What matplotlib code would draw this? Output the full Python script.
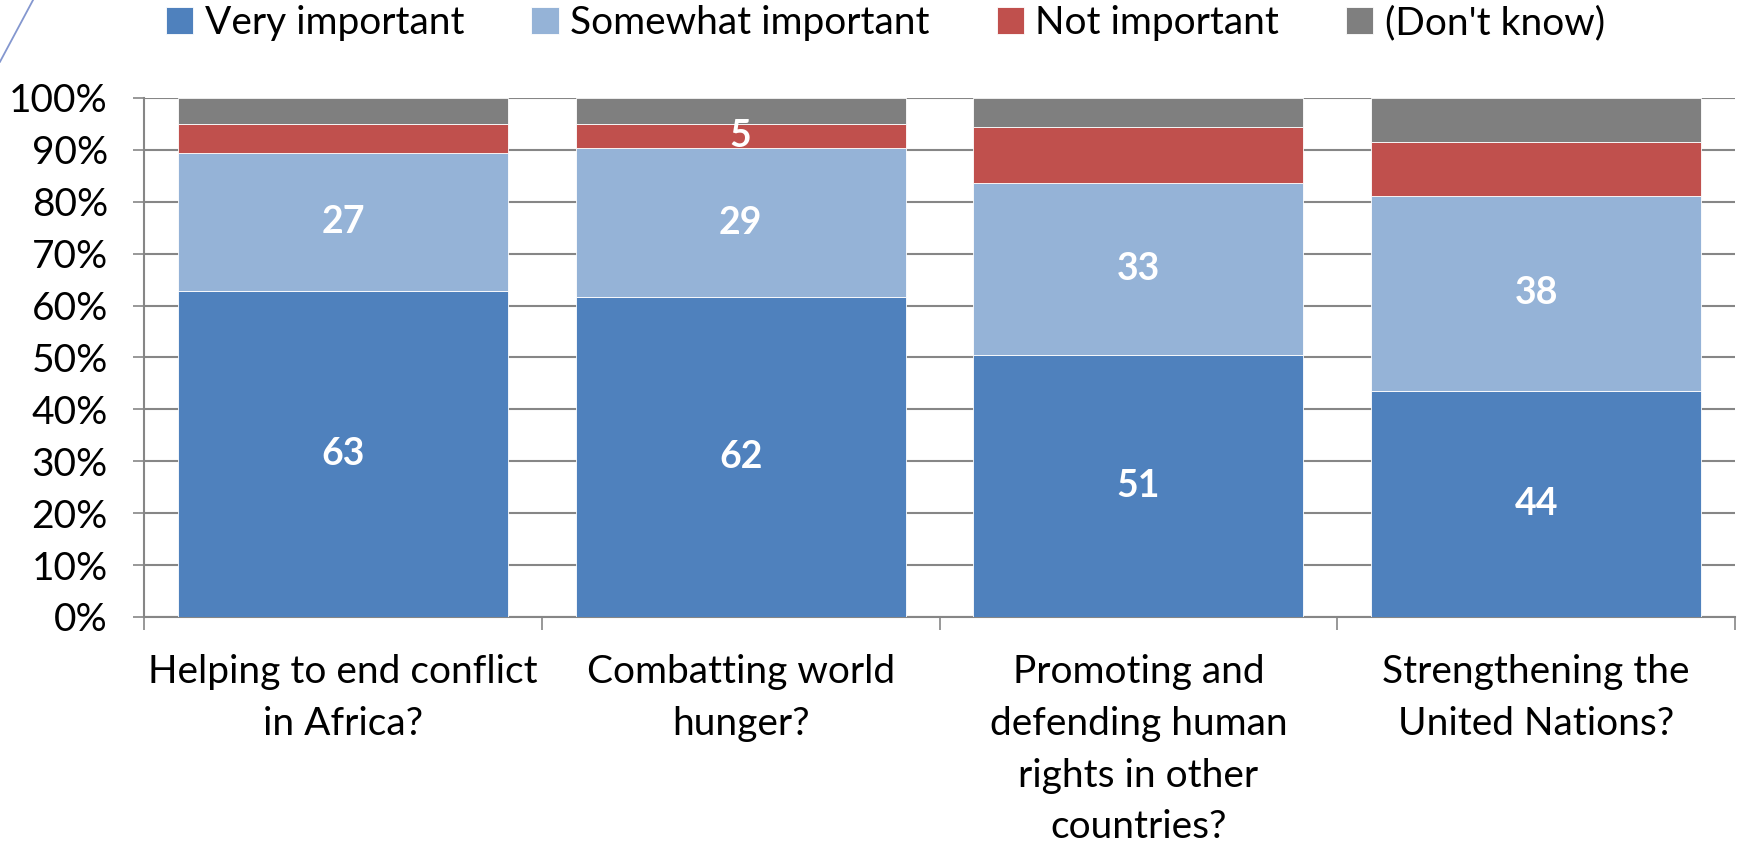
import matplotlib
matplotlib.use("Agg")
import matplotlib.pyplot as plt
from matplotlib.lines import Line2D
import numpy as np

plt.rcParams['font.family'] = ['Lato', 'DejaVu Sans']

categories = ["Helping to end conflict\nin Africa?",
              "Combatting world\nhunger?",
              "Promoting and\ndefending human\nrights in other\ncountries?",
              "Strengthening the\nUnited Nations?"]
series_names = ["Very important", "Somewhat important", "Not important", "(Don't know)"]
very_important = [62.9, 61.6, 50.5, 43.5]
somewhat_important = [26.5, 28.7, 33.1, 37.7]
not_important = [5.6, 4.7, 10.9, 10.3]
dont_know = [5.0, 5.0, 5.5, 8.5]
very_labels = ["63", "62", "51", "44"]
somewhat_labels = ["27", "29", "33", "38"]
not_labels = ["", "5", "", ""]
dk_labels = ["", "", "", ""]
y_ticks = [0, 10, 20, 30, 40, 50, 60, 70, 80, 90, 100]

colors = ["#4F81BD", "#95B3D7", "#C0504D", "#7F7F7F"]

fig = plt.figure(figsize=(17.4, 8.46), dpi=100)
ax = fig.add_axes([0.0828, 0.2707, 0.9971 - 0.0828, 0.8842 - 0.2707])

x = np.arange(len(categories))
series = [very_important, somewhat_important, not_important, dont_know]
labels = [very_labels, somewhat_labels, not_labels, dk_labels]
bottom = np.zeros(len(categories))
handles = []
for vals, col, name, labs in zip(series, colors, series_names, labels):
    vals = np.array(vals)
    b = ax.bar(x, vals, width=0.83, bottom=bottom, color=col, edgecolor='white',
               linewidth=0.6, label=name, zorder=3)
    handles.append(b)
    for xi, bi, vi, lab in zip(x, bottom, vals, labs):
        if lab:
            ax.text(xi, bi + vi / 2, lab, ha='center', va='center', color='white',
                    fontsize=27, fontweight='bold', zorder=4)
    bottom = bottom + vals

ax.set_xlim(-0.5, len(categories) - 0.5)
ax.set_ylim(0, 100)
ax.set_yticks(y_ticks)
ax.set_yticklabels([f"{t}%" for t in y_ticks], fontsize=28)
ax.yaxis.grid(True, color='#868686', linewidth=1.5, zorder=0)
ax.set_axisbelow(True)

ax.set_xticks(x)
ax.set_xticklabels(categories, fontsize=28, linespacing=1.54)
ax.set_xticks(np.arange(-0.5, len(categories)), minor=True)
ax.tick_params(axis='x', which='major', length=0, pad=27)
ax.tick_params(axis='x', which='minor', length=9, width=1.2, color='#868686')
ax.tick_params(axis='y', length=8, width=1.2, color='#868686', pad=18)

for s in ['top', 'right']:
    ax.spines[s].set_visible(False)
for s in ['left', 'bottom']:
    ax.spines[s].set_color('#868686')
    ax.spines[s].set_linewidth(1.5)

fig.legend(handles=handles, labels=series_names, loc='center', ncol=4,
           bbox_to_anchor=(0.509, 0.973), frameon=False, fontsize=28,
           handlelength=0.7, handleheight=0.7, handletextpad=0.3,
           columnspacing=1.72)

fig.add_artist(Line2D([0, 0.019], [0.927, 1.0], transform=fig.transFigure,
                      color='#8497CF', linewidth=1.3))

fig.savefig("out.png", dpi=100)
